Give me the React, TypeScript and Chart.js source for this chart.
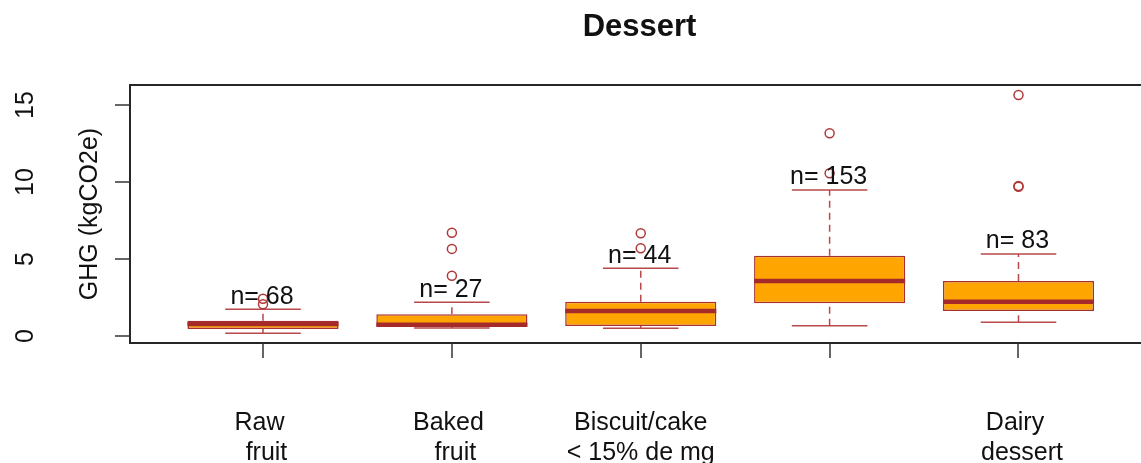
import React, { useEffect, useRef } from "react";
import { Chart, registerables } from "chart.js";

Chart.register(...registerables);

// ---- data ----
const chartTitle = "Dessert";
const yAxisTitle = "GHG (kgCO2e)";
const categoryLines: string[][] = [
  ["Raw ", " fruit"],
  ["Baked ", " fruit"],
  ["Biscuit/cake", "< 15% de mg"],
  [],
  ["Dairy ", " dessert"],
];
const counts = [68, 27, 44, 153, 83];
const lowWhisker = [0.16, 0.5, 0.48, 0.65, 0.87];
const q1 = [0.44, 0.61, 0.63, 2.11, 1.61];
const median = [0.76, 0.72, 1.61, 3.56, 2.21];
const q3 = [0.98, 1.39, 2.21, 5.21, 3.56];
const highWhisker = [1.72, 2.17, 4.39, 9.49, 5.32];
const outliers: number[][] = [
  [2.05, 2.4],
  [3.9, 5.65, 6.7],
  [5.69, 6.67],
  [10.57, 13.18],
  [9.7, 9.75, 15.67],
];
const yTicks = [0, 5, 10, 15];

// ---- styles ----
const W = 1141;
const H = 463;
const FONT = "'Liberation Sans', Arial, sans-serif";
const ORANGE = "#ffa500";
const BROWN = "#a52a2a";
const BOX_BORDER = "#a93030";
const WHISKER = "#b8494a";
const CAP_HALF = 0.2;
const BOX_HALF = 0.4;

const positions = counts.map((_, i) => i + 1);

function segs(build: (p: number, i: number) => { x: number; y: number | null }[]) {
  const out: { x: number; y: number | null }[] = [];
  positions.forEach((p, i) => {
    out.push(...build(p, i));
  });
  return out;
}

export default function App() {
  const ref = useRef<HTMLCanvasElement | null>(null);

  useEffect(() => {
    if (!ref.current) return;

    const decor = {
      id: "decor",
      afterDatasetsDraw(chart: any) {
        const ctx = chart.ctx as CanvasRenderingContext2D;
        const xs = chart.scales.x;
        const ys = chart.scales.y;
        ctx.save();
        ctx.fillStyle = "#111";
        ctx.font = `25px ${FONT}`;
        ctx.textAlign = "center";
        ctx.textBaseline = "alphabetic";
        positions.forEach((p, i) => {
          const px = xs.getPixelForValue(p);
          const py = ys.getPixelForValue(highWhisker[i]);
          ctx.fillText(`n= ${counts[i]}`, px - 1, py - 5.5);
        });
        ctx.restore();
      },
      afterDraw(chart: any) {
        const ctx = chart.ctx as CanvasRenderingContext2D;
        const area = chart.chartArea;
        const xs = chart.scales.x;
        const ys = chart.scales.y;
        ctx.save();
        // frame (left, top, bottom)
        ctx.strokeStyle = "#262626";
        ctx.lineWidth = 2;
        ctx.beginPath();
        ctx.moveTo(area.right + 5, area.top);
        ctx.lineTo(area.left, area.top);
        ctx.lineTo(area.left, area.bottom);
        ctx.lineTo(area.right + 5, area.bottom);
        ctx.stroke();

        // y ticks
        ctx.lineWidth = 1.5;
        ctx.strokeStyle = "#333";
        ctx.fillStyle = "#111";
        ctx.font = `25px ${FONT}`;
        ys.ticks.forEach((t: any) => {
          const py = Math.round(ys.getPixelForValue(t.value));
          ctx.beginPath();
          ctx.moveTo(area.left, py);
          ctx.lineTo(area.left - 15, py);
          ctx.stroke();
          ctx.save();
          ctx.translate(33, py);
          ctx.rotate(-Math.PI / 2);
          ctx.textAlign = "center";
          ctx.textBaseline = "alphabetic";
          ctx.fillText(String(t.value), 0, 0);
          ctx.restore();
        });

        // x ticks and labels
        xs.ticks.forEach((t: any, i: number) => {
          const px = Math.round(xs.getPixelForValue(t.value));
          ctx.beginPath();
          ctx.moveTo(px, area.bottom);
          ctx.lineTo(px, area.bottom + 15);
          ctx.stroke();
          const lines = categoryLines[i] || [];
          ctx.textAlign = "center";
          ctx.textBaseline = "alphabetic";
          lines.forEach((ln, j) => {
            ctx.fillText(ln, xs.getPixelForValue(t.value), 430 + 30 * j);
          });
        });

        // y axis title
        ctx.save();
        ctx.translate(97, (area.top + area.bottom) / 2);
        ctx.rotate(-Math.PI / 2);
        ctx.textAlign = "center";
        ctx.textBaseline = "alphabetic";
        ctx.fillText(yAxisTitle, 0, 0);
        ctx.restore();

        // title
        ctx.font = `bold 31px ${FONT}`;
        ctx.textAlign = "center";
        ctx.textBaseline = "alphabetic";
        ctx.fillText(chartTitle, 639.5, 36);
        ctx.restore();
      },
    };

    const chart = new Chart(ref.current, {
      type: "bar",
      data: {
        datasets: [
          {
            type: "scatter",
            label: "outliers",
            data: positions.flatMap((p, i) => outliers[i].map((v) => ({ x: p, y: v }))),
            pointStyle: "circle",
            pointRadius: 4.5,
            pointBorderWidth: 1.5,
            pointBorderColor: "#b03838",
            pointBackgroundColor: "rgba(0,0,0,0)",
            order: 0,
          } as any,
          {
            type: "line",
            label: "median",
            data: segs((p, i) => [
              { x: p - BOX_HALF, y: median[i] },
              { x: p + BOX_HALF, y: median[i] },
              { x: p, y: null },
            ]),
            borderColor: BROWN,
            borderWidth: 4.5,
            borderCapStyle: "butt",
            pointRadius: 0,
            spanGaps: false,
            order: 1,
          } as any,
          {
            type: "line",
            label: "caps",
            data: segs((p, i) => [
              { x: p - CAP_HALF, y: highWhisker[i] },
              { x: p + CAP_HALF, y: highWhisker[i] },
              { x: p, y: null },
              { x: p - CAP_HALF, y: lowWhisker[i] },
              { x: p + CAP_HALF, y: lowWhisker[i] },
              { x: p, y: null },
            ]),
            borderColor: WHISKER,
            borderWidth: 1.5,
            pointRadius: 0,
            spanGaps: false,
            order: 2,
          } as any,
          {
            type: "line",
            label: "whiskers",
            data: segs((p, i) => [
              { x: p, y: q3[i] },
              { x: p, y: highWhisker[i] },
              { x: p, y: null },
              { x: p, y: lowWhisker[i] },
              { x: p, y: q1[i] },
              { x: p, y: null },
            ]),
            borderColor: WHISKER,
            borderWidth: 1.5,
            borderDash: [7, 5],
            pointRadius: 0,
            spanGaps: false,
            order: 3,
          } as any,
          {
            type: "bar",
            label: "boxes",
            data: positions.map((p, i) => ({ x: p, y: [q1[i], q3[i]] })),
            backgroundColor: ORANGE,
            borderColor: BOX_BORDER,
            borderWidth: 1.5,
            borderSkipped: false,
            barPercentage: 0.8,
            categoryPercentage: 1.0,
            order: 4,
          } as any,
        ],
      },
      options: {
        responsive: false,
        animation: false,
        devicePixelRatio: 1,
        layout: { autoPadding: false, padding: { left: 130, top: 85, bottom: 120, right: 0 } },
        plugins: { legend: { display: false }, tooltip: { enabled: false }, title: { display: false } },
        events: [],
        scales: {
          x: {
            type: "linear",
            display: false,
            offset: false,
            min: 0.2958,
            max: 5.6486,
            afterBuildTicks: (s: any) => {
              s.ticks = positions.map((v) => ({ value: v }));
            },
          },
          y: {
            type: "linear",
            display: false,
            min: -0.475,
            max: 16.32,
            afterBuildTicks: (s: any) => {
              s.ticks = yTicks.map((v) => ({ value: v }));
            },
          },
        },
      } as any,
      plugins: [decor],
    });

    return () => chart.destroy();
  }, []);

  return (
    <div style={{ position: "fixed", left: 0, top: 0, width: W, height: H, background: "#fff" }}>
      <canvas ref={ref} width={W} height={H} style={{ display: "block" }} />
    </div>
  );
}
